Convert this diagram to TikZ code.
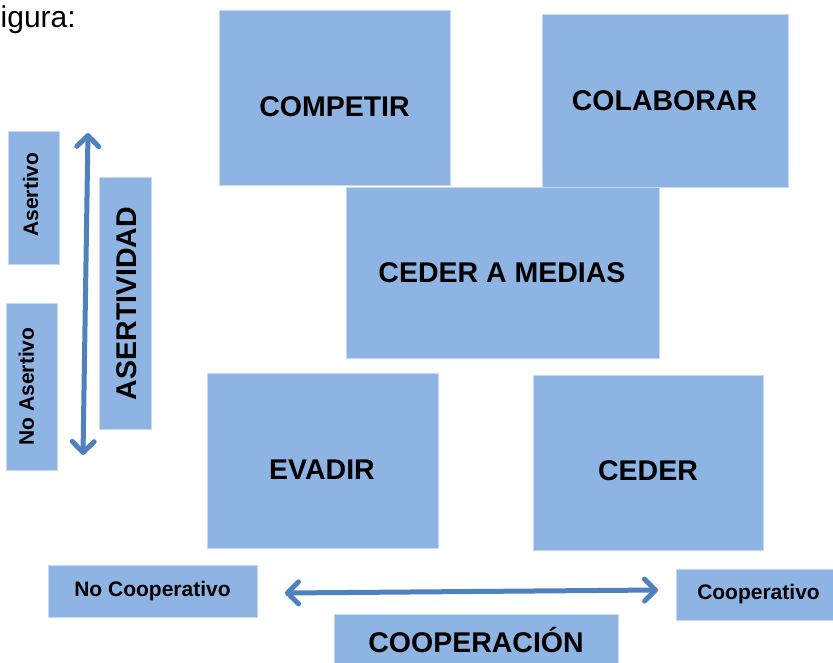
\documentclass[tikz,border=0pt]{standalone}
\usepackage{fontspec}
\setmainfont{Liberation Sans}
\usetikzlibrary{arrows.meta}
\definecolor{boxfill}{HTML}{8EB4E3}
\definecolor{boxline}{HTML}{C6D9F1}
\definecolor{arrowblue}{HTML}{4F81BD}
\tikzset{
  box/.style={rectangle, fill=boxfill, draw=boxline, line width=1pt, inner sep=0pt},
  bigtxt/.style={inner sep=0pt, text height=20.4pt, text depth=0pt,
    font=\fontsize{28.5}{30}\selectfont\bfseries},
  smalltxt/.style={inner sep=0pt, text height=15pt, text depth=0pt,
    font=\fontsize{21}{24}\selectfont\bfseries},
  barbtip/.tip={Straight Barb[length=11pt,width=22pt,line cap=round,line join=round]},
  dblarrow/.style={draw=arrowblue, line width=5pt, line cap=round, barbtip-barbtip},
}
\begin{document}
\begin{tikzpicture}[x=1pt,y=-1pt]
\useasboundingbox (0,0) rectangle (833,662);
\clip (0,0) rectangle (833,662);
\fill[white] (0,0) rectangle (833,662);

% caption fragment
\node[anchor=base west, inner sep=0pt, font=\fontsize{30}{32}\selectfont] (cap) at (0.5,27) {igura:};

% main boxes
\node[box, minimum width=231pt, minimum height=175pt] (competir) at (334.5,97.5) {};
\node[bigtxt] (tcompetir) at (334.5,106) {COMPETIR};

\node[box, minimum width=246pt, minimum height=173pt] (colaborar) at (665,100.5) {};
\node[bigtxt] (tcolaborar) at (664.5,100.5) {COLABORAR};

\node[box, minimum width=313pt, minimum height=171pt] (medias) at (502.5,272.5) {};
\node[bigtxt] (tmedias) at (502,272.5) {CEDER A MEDIAS};

\node[box, minimum width=231pt, minimum height=175pt] (evadir) at (322.5,460.5) {};
\node[bigtxt] (tevadir) at (322,469.5) {EVADIR};

\node[box, minimum width=230pt, minimum height=175pt] (ceder) at (648,462.5) {};
\node[bigtxt] (tceder) at (648,470.5) {CEDER};

% assertiveness axis
\node[box, minimum width=51pt, minimum height=133pt] (asertivo) at (33.5,197.5) {};
\node[smalltxt, rotate=90] (tasertivo) at (30.5,194.5) {Asertivo};

\node[box, minimum width=51pt, minimum height=167pt] (noasertivo) at (31.5,386.5) {};
\node[smalltxt, rotate=90] (tnoasertivo) at (26.5,386.5) {No Asertivo};

\node[box, minimum width=52pt, minimum height=252pt] (asertividad) at (125,303) {};
\node[bigtxt, rotate=90] (tasertividad) at (126,303.5) {ASERTIVIDAD};

\coordinate (vtop) at (88,133);
\coordinate (vbot) at (83,455);
\draw[dblarrow] (vtop) -- (vbot);

% cooperation axis
\node[box, minimum width=209pt, minimum height=52pt] (nocoop) at (152.5,591) {};
\node[smalltxt] (tnocoop) at (152.5,588.5) {No Cooperativo};

\node[box, minimum width=165pt, minimum height=51pt] (coop) at (758.5,594.5) {};
\node[smalltxt] (tcoop) at (758.5,592) {Cooperativo};

\node[box, minimum width=284pt, minimum height=56pt] (cooperacion) at (476,642) {};
\node[bigtxt] (tcooperacion) at (476,642) {COOPERACIÓN};

\coordinate (hleft) at (285,593);
\coordinate (hright) at (658,590);
\draw[dblarrow] (hleft) -- (hright);
\end{tikzpicture}
\end{document}
